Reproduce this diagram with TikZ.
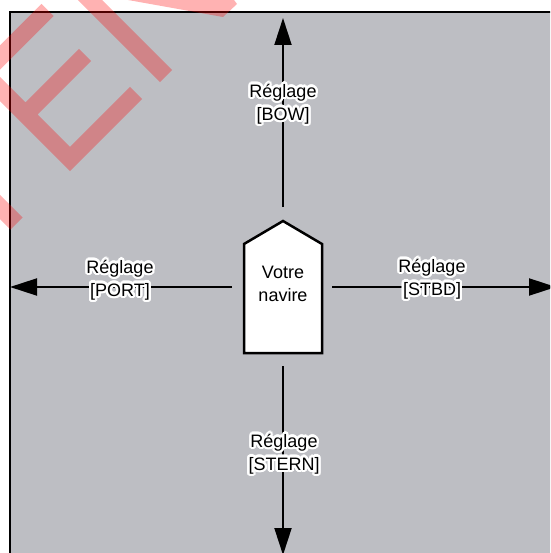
\documentclass[tikz,border=0pt]{standalone}
\usepackage{fontspec}
\setmainfont{Liberation Sans}
\usetikzlibrary{arrows.meta,calc}
\definecolor{panel}{RGB}{189,190,195}
\tikzset{
  lbl/.style={font=\fontsize{18}{23}\selectfont, align=center, inner sep=0pt},
  heading/.style={-{Triangle[length=27pt,width=17pt]}, line width=2pt},
  hull/.style={line width=2.5pt, fill=white, line join=miter},
  frame/.style={line width=2.2pt},
  stamp/.style={red, opacity=0.3, line width=17pt, line cap=butt, line join=miter},
}
% text with a white outline: white copies around it, black text on top
\newcommand{\halolabel}[3]{%
  \foreach \ang in {0,20,...,340}{\node[lbl,text=white] at ($(#2)+(\ang:2.4)$) {#3};}
  \node[lbl] (#1) at (#2) {#3};}
\begin{document}
\begin{tikzpicture}[x=1pt,y=-1pt]
\useasboundingbox (0,0) rectangle (550,553);
\clip (0,0) rectangle (550,553);
\fill[white] (0,0) rectangle (550,553);

% grey panel, only its left and top edges are in view
\fill[panel] (10,12) rectangle (570,570);
\draw[frame] (10,570) -- (10,12) -- (570,12);

% own ship outline
\draw[hull] (244,353) -- (244,244) -- (283,221) -- (322,244) -- (322,353) -- cycle;
\node[lbl] (ship) at (283,284) {Votre\\navire};

% direction arrows
\coordinate (bowS) at (283,207);
\coordinate (bowT) at (283,18);
\coordinate (portS) at (232,287);
\coordinate (portT) at (10,287);
\coordinate (stbdS) at (332,287);
\coordinate (stbdT) at (556,287);
\coordinate (sternS) at (283,366);
\coordinate (sternT) at (283,555);
\draw[heading] (bowS) -- (bowT);
\draw[heading] (portS) -- (portT);
\draw[heading] (stbdS) -- (stbdT);
\draw[heading] (sternS) -- (sternT);

% setting labels
\halolabel{bow}{283,104}{Réglage\\{[BOW]}}
\halolabel{port}{120,280}{Réglage\\{[PORT]}}
\halolabel{stbd}{432,279}{Réglage\\{[STBD]}}
\halolabel{stern}{284,454}{Réglage\\{[STERN]}}

% red stamp over the upper left corner
\draw[stamp]
  (47.5,10) -- (-15.75,73.25) -- (70,159) -- (136,93)
  (25.5,114.5) -- (85,55)
  (-20,187) -- (16.5,223.5)
  (75,-15) -- (166,76);
\fill[red, opacity=0.3] (128,0) -- (234,0) -- (237,4) -- (223,17) -- cycle;
\end{tikzpicture}
\end{document}
